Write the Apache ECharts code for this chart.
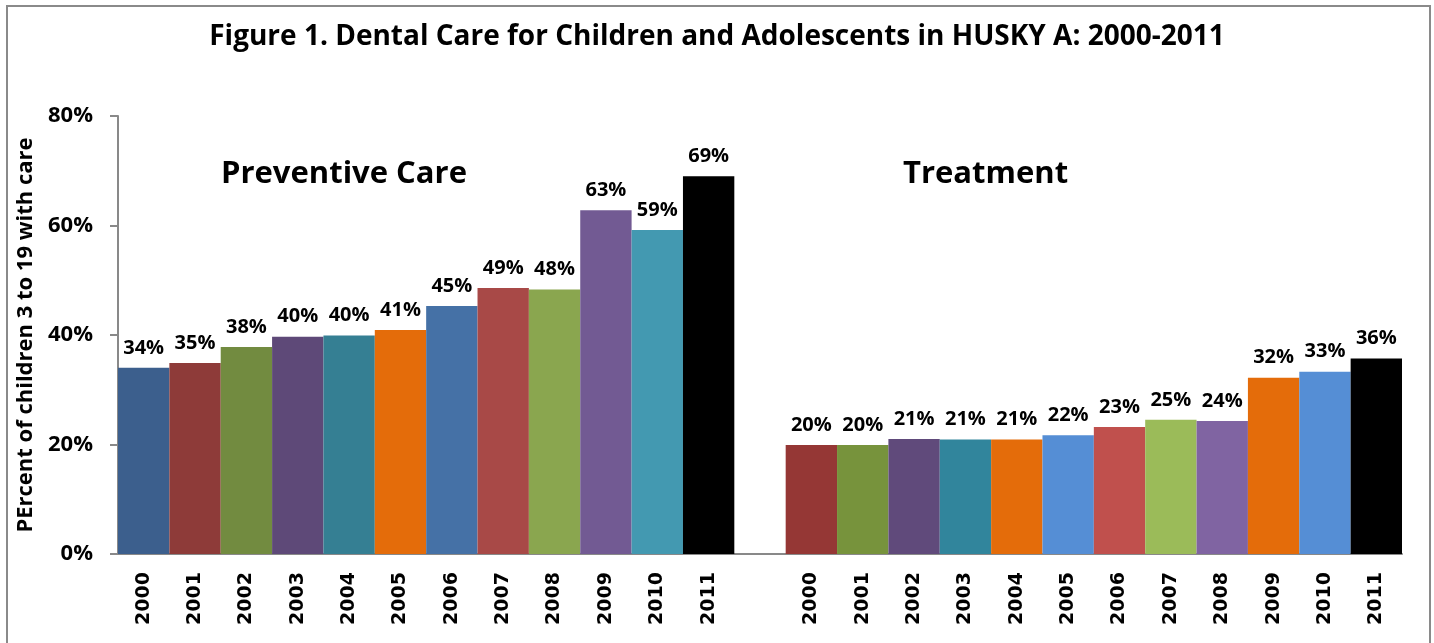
<!DOCTYPE html>
<html>
<head>
<meta charset="utf-8">
<script src="https://cdn.jsdelivr.net/npm/echarts@6/dist/echarts.min.js"></script>
<style>
  html, body { margin: 0; padding: 0; background: #ffffff; }
  #chart { width: 1434px; height: 643px; }
</style>
</head>
<body>
<div id="chart"></div>
<script>
// Survey years shown under each group
const years = ['2000', '2001', '2002', '2003', '2004', '2005', '2006', '2007', '2008', '2009', '2010', '2011'];

// Percent of children 3 to 19 with a dental visit, by year
const preventiveCare = [34.0, 34.9, 37.8, 39.7, 39.9, 40.9, 45.3, 48.6, 48.3, 62.8, 59.2, 69.0];
const treatment = [19.9, 19.9, 21.0, 20.9, 20.9, 21.7, 23.2, 24.5, 24.3, 32.2, 33.3, 35.7];

// One fill per bar
const preventiveColors = ['#3C5F8D', '#8E3B39', '#728B40', '#5E4978', '#357F93', '#E46C0A',
                          '#4571A6', '#A84947', '#8AA64F', '#725A93', '#4399B1', '#000000'];
const treatmentColors = ['#953735', '#77933C', '#604A7B', '#31859C', '#E46C0A', '#558ED5',
                         '#C0504D', '#9BBB59', '#8064A2', '#E46C0A', '#558ED5', '#000000'];

// Y axis ticks
const yTicks = [0, 20, 40, 60, 80];

// Both groups share one category axis, separated by an empty slot
const categories = years.concat([''], years);
const barData = preventiveCare.map((v, i) => ({ value: v, itemStyle: { color: preventiveColors[i] } }))
  .concat([{ value: null }])
  .concat(treatment.map((v, i) => ({ value: v, itemStyle: { color: treatmentColors[i] } })));

const FONT = '"Open Sans", "Noto Sans", sans-serif';

const chart = echarts.init(document.getElementById('chart'), null, { renderer: 'canvas' });
chart.setOption({
  animation: false,
  backgroundColor: '#ffffff',
  title: {
    text: 'Figure 1. Dental Care for Children and Adolescents in HUSKY A: 2000-2011',
    left: 'center',
    top: 18,
    textStyle: { fontFamily: FONT, fontWeight: 'bold', fontSize: 28, color: '#000000' }
  },
  grid: { left: 118, right: 32, top: 116, bottom: 89, containLabel: false },
  xAxis: {
    type: 'category',
    data: categories,
    axisLine: { show: true, lineStyle: { color: '#898989', width: 2 } },
    axisTick: { show: false },
    axisLabel: {
      interval: 0,
      rotate: 90,
      margin: 18,
      fontFamily: '"DejaVu Sans", sans-serif',
      fontWeight: 'bold',
      fontSize: 19,
      color: '#000000'
    }
  },
  yAxis: {
    type: 'value',
    min: yTicks[0],
    max: yTicks[yTicks.length - 1],
    interval: 20,
    name: 'PErcent of children 3 to 19 with care',
    nameLocation: 'middle',
    nameGap: 73,
    nameTextStyle: { fontFamily: FONT, fontWeight: 'bold', fontSize: 22, color: '#000000' },
    axisLine: { show: true, lineStyle: { color: '#898989', width: 2 } },
    axisTick: { show: true, length: 8, lineStyle: { color: '#898989', width: 2 } },
    splitLine: { show: false },
    axisLabel: {
      formatter: v => v + '%',
      margin: 25,
      fontFamily: FONT,
      fontWeight: 'bold',
      fontSize: 22,
      color: '#000000'
    }
  },
  series: [{
    type: 'bar',
    data: barData,
    barCategoryGap: '0%',
    label: {
      show: true,
      position: 'top',
      distance: 10,
      formatter: p => Math.round(p.value) + '%',
      fontFamily: FONT,
      fontWeight: 'bold',
      fontSize: 20,
      color: '#000000'
    }
  }],
  graphic: [
    {
      type: 'rect',
      silent: true,
      shape: { x: 7, y: 6, width: 1423, height: 660 },
      style: { fill: 'none', stroke: '#8a8a8a', lineWidth: 2 }
    },
    {
      type: 'text',
      left: 221,
      top: 159,
      style: { text: 'Preventive Care', fontFamily: FONT, fontWeight: 'bold', fontSize: 31, fill: '#000000' }
    },
    {
      type: 'text',
      left: 903,
      top: 159,
      style: { text: 'Treatment', fontFamily: FONT, fontWeight: 'bold', fontSize: 31, fill: '#000000' }
    }
  ]
});
</script>
</body>
</html>
